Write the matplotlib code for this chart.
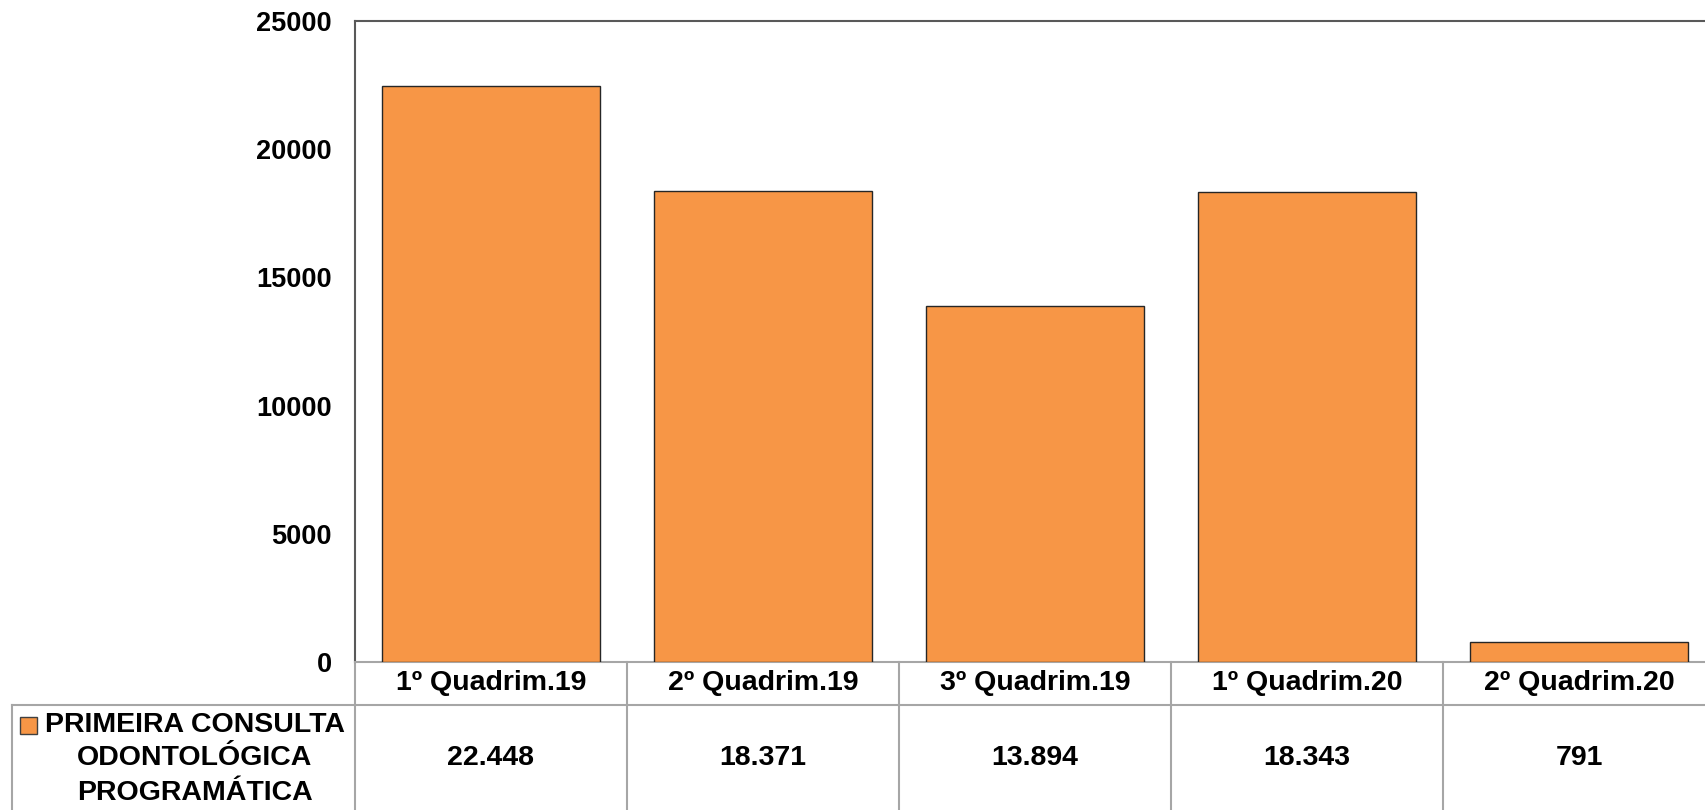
import matplotlib.pyplot as plt
from matplotlib.patches import Rectangle
from matplotlib.transforms import blended_transform_factory

plt.rcParams['font.family'] = ['Liberation Sans', 'DejaVu Sans']

# data
categories = ['1º Quadrim.19', '2º Quadrim.19', '3º Quadrim.19',
              '1º Quadrim.20', '2º Quadrim.20']
values = [22448, 18371, 13894, 18343, 791]
series_lines = ['PRIMEIRA CONSULTA', 'ODONTOLÓGICA', 'PROGRAMÁTICA']
yticks = [0, 5000, 10000, 15000, 20000, 25000]

bar_color = '#F79646'
grid_color = '#A6A6A6'
W, H = 1706, 810
fs = 20.5

fig = plt.figure(figsize=(W / 100, H / 100), dpi=100)

# overlay in pixel coordinates for the data table under the chart
ov = fig.add_axes([0, 0, 1, 1])
ov.set_xlim(0, W)
ov.set_ylim(H, 0)
ov.axis('off')

ax = fig.add_axes([355 / W, (H - 662) / H, 1360 / W, (662 - 21) / H])
x = list(range(len(categories)))
ax.bar(x, values, width=0.805, color=bar_color, edgecolor='#262626', linewidth=1, zorder=3)
ax.set_xlim(-0.5, len(categories) - 0.5)
ax.set_ylim(0, 25000)
ax.set_yticks(yticks)
ax.set_yticklabels([str(t) for t in yticks], fontsize=19.5, fontweight='bold')
ax.tick_params(axis='y', length=0, pad=16.5)
ax.set_xticks([])
for s in ['left', 'top', 'right']:
    ax.spines[s].set_color('#595959')
    ax.spines[s].set_linewidth(1.5)
ax.spines['bottom'].set_color(grid_color)
ax.spines['bottom'].set_linewidth(1.5)

# table
tr = blended_transform_factory(ax.transData, ov.transData)
lw = 1.5
ov.plot([12, W], [705, 705], color=grid_color, lw=lw, clip_on=False)
ov.plot([355, 355], [662, H], color=grid_color, lw=lw)
ov.plot([12, 12], [705, H], color=grid_color, lw=lw)
for i in range(len(categories) - 1):
    ax.plot([i + 0.5, i + 0.5], [662, H], color=grid_color, lw=lw,
            transform=tr, clip_on=False)

for i, (cat, v) in enumerate(zip(categories, values)):
    ax.text(i, 683, cat, transform=tr, ha='center', va='center',
            fontsize=fs, fontweight='bold')
    ax.text(i, 758, f'{v:,}'.replace(',', '.'), transform=tr, ha='center',
            va='center', fontsize=fs, fontweight='bold')

# legend key in table
ov.add_patch(Rectangle((20, 717), 17, 17, facecolor=bar_color, edgecolor='#404040', lw=1))
for line, yy in zip(series_lines, [725, 758, 793]):
    ov.text(195, yy, line, ha='center', va='center', fontsize=fs, fontweight='bold')

fig.savefig('out.png', dpi=100)
